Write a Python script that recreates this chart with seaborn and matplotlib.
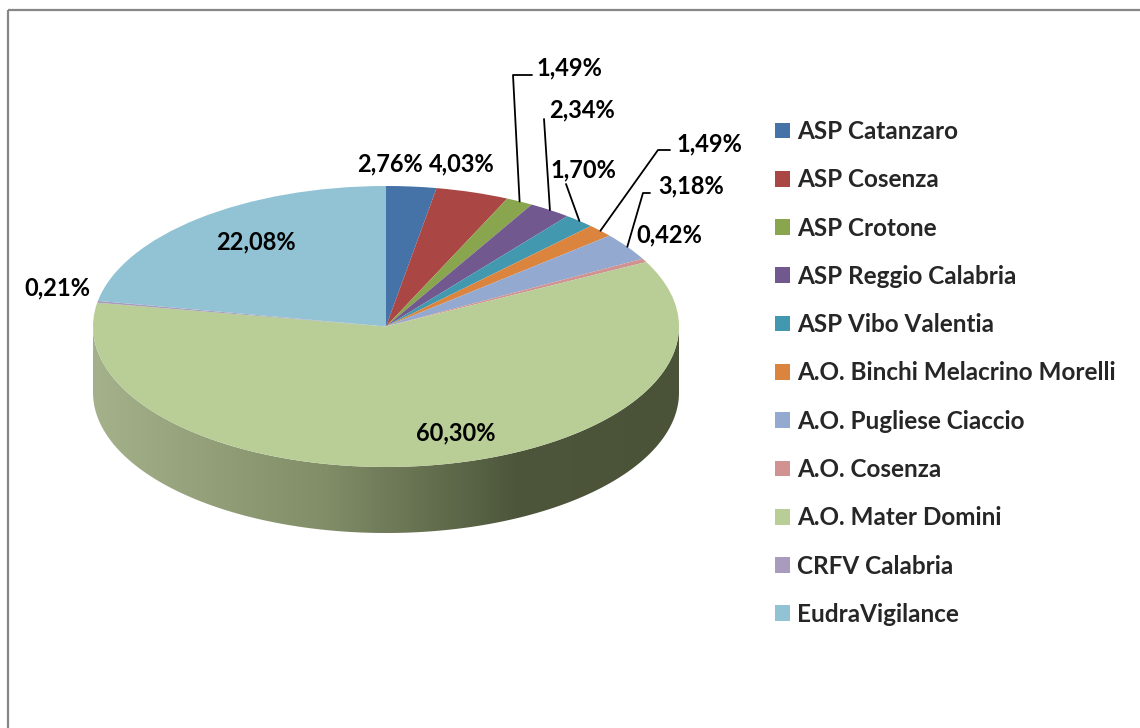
import numpy as np
import matplotlib
matplotlib.use("Agg")
import matplotlib.pyplot as plt
from matplotlib.patches import Polygon, Rectangle
from matplotlib.colors import LinearSegmentedColormap
import seaborn as sns

enti = ["ASP Catanzaro", "ASP Cosenza", "ASP Crotone", "ASP Reggio Calabria",
        "ASP Vibo Valentia", "A.O. Binchi Melacrino Morelli", "A.O. Pugliese Ciaccio",
        "A.O. Cosenza", "A.O. Mater Domini", "CRFV Calabria", "EudraVigilance"]
quote = [2.76, 4.03, 1.49, 2.34, 1.70, 1.49, 3.18, 0.42, 60.30, 0.21, 22.08]
colori = ["#4572A7", "#AA4643", "#89A54E", "#71588F", "#4198AF", "#DB843D",
          "#93A9CF", "#D19392", "#B9CD96", "#A99BBD", "#92C3D4"]

# where the percentage labels sit (pixels, y down) and leader-line elbows
pos_etichette = [(390, 164), (462, 164), (569, 68), (582, 110), (583, 170), (709, 144),
                 (691, 186), (669, 235), (456, 433), (57, 288), (256, 242)]
gomiti = {2: [(513, 75), (532, 75)], 3: [(544, 119)], 4: [(566, 184)],
          5: [(658, 150), (670, 150)], 6: [(643, 193), (650, 193)]}

sns.set_theme(style="white")
plt.rcParams["font.family"] = ["Lato", "DejaVu Sans"]

W, H = 1140, 728
fig = plt.figure(figsize=(W / 100, H / 100), dpi=100)

# ellipse geometry of the tilted pie (pixels)
cx, rx = 386, 293
top, bot = 186, 467
cy = (top + bot) / 2
ry = (bot - top) / 2
depth = 66 / ry
ylo = -1 - depth - 0.1

ax = fig.add_axes([(cx - rx) / W, (H - (cy - ylo * ry)) / H, 2 * rx / W, (1 - ylo) * ry / H])

wedges, _ = ax.pie(quote, colors=colori, startangle=90, counterclock=False,
                   wedgeprops=dict(linewidth=0))

# side of the cylinder with a horizontal shading
shade = LinearSegmentedColormap.from_list(
    "side", [(0, "#a4b18b"), (0.4, "#808d67"), (0.72, "#4d563b"), (1, "#4a5238")])
grad = np.linspace(0, 1, 256).reshape(1, -1)
im = ax.imshow(grad, extent=(-1, 1, -1 - depth, 0), aspect="auto", cmap=shade, zorder=0)
th = np.linspace(np.pi, 2 * np.pi, 300)
verts = np.vstack([np.column_stack([np.cos(th), np.sin(th)]),
                   np.column_stack([np.cos(th[::-1]), np.sin(th[::-1]) - depth])])
clip = Polygon(verts, closed=True, transform=ax.transData)
im.set_clip_path(clip)

ax.set_aspect("auto")
ax.set_xlim(-1, 1)
ax.set_ylim(ylo, 1)
ax.axis("off")

ax.legend(wedges, enti, loc="upper left", bbox_to_anchor=(775 / W, 1 - 120 / H),
          bbox_transform=fig.transFigure, frameon=False, borderpad=0, borderaxespad=0,
          handlelength=0.62, handleheight=0.62, handletextpad=0.3, labelspacing=1.04,
          prop=dict(family=["Lato", "DejaVu Sans"], weight="bold", size=17.5))

# overlay in pixel coordinates for labels and frame
ov = fig.add_axes([0, 0, 1, 1])
ov.set_zorder(10)
ov.set_xlim(0, W)
ov.set_ylim(H, 0)
ov.axis("off")

mid = np.cumsum(quote) - np.array(quote) / 2
ang = np.deg2rad(90 - mid / 100 * 360)
to_px = ov.transData.inverted()
for i, q in enumerate(quote):
    tx, ty = pos_etichette[i]
    txt = f"{q:.2f}%".replace(".", ",")
    ov.text(tx, ty, txt, ha="center", va="center", fontsize=17, fontweight="bold", color="black")
    if i in gomiti:
        start = to_px.transform(ax.transData.transform((np.cos(ang[i]), np.sin(ang[i]))))
        pts = [tuple(start)] + gomiti[i]
        xs, ys = zip(*pts)
        ov.plot(xs, ys, color="black", lw=1.3)

ov.add_patch(Rectangle((8, 10), W, H, fill=False, edgecolor="#878787", lw=1.6))

fig.savefig("out.png", dpi=100)
